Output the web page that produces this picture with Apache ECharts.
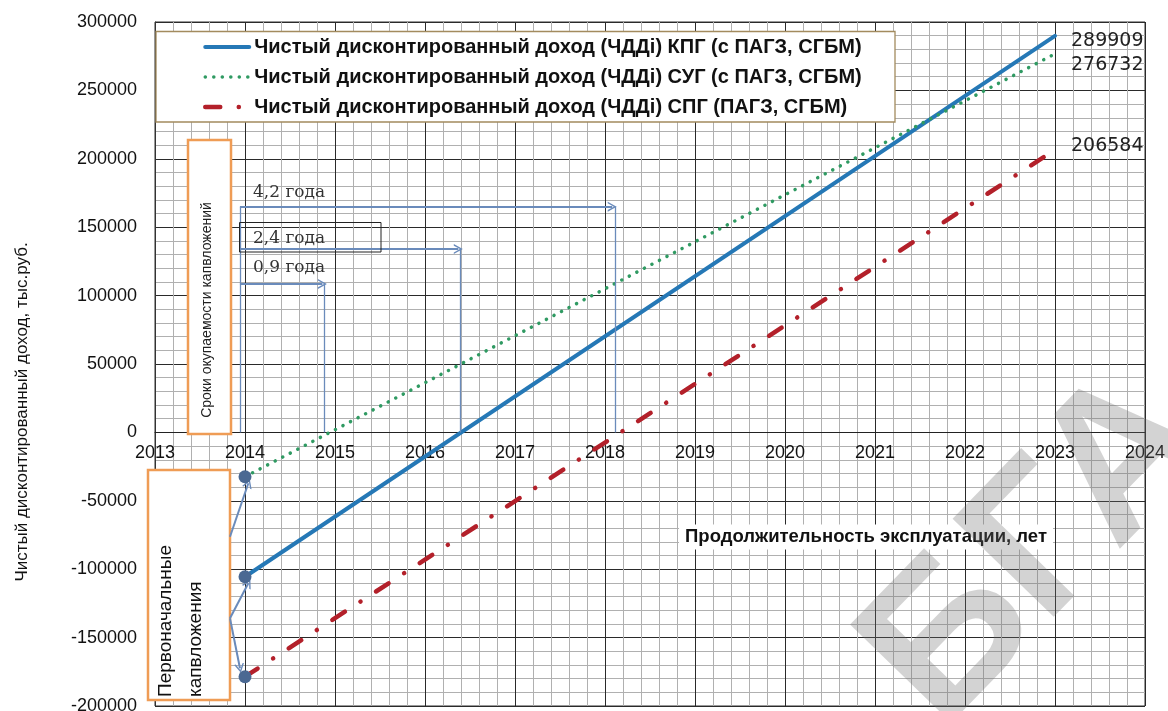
<!DOCTYPE html>
<html>
<head>
<meta charset="utf-8">
<script src="https://cdn.jsdelivr.net/npm/echarts@6/dist/echarts.min.js"></script>
<style>
html,body{margin:0;padding:0;background:#fff;}
#chart{width:1168px;height:711px;}
</style>
</head>
<body>
<div id="chart"></div>
<script>
// ---- data ----
const years = [2014, 2023];
const kpg = [-105500, 289909];   // ЧДД КПГ
const sug = [-32400, 276732];    // ЧДД СУГ
const spg = [-178600, 206584];   // ЧДД СПГ
const seriesNames = [
  'Чистый дисконтированный доход (ЧДДі) КПГ (с ПАГЗ, СГБМ)',
  'Чистый дисконтированный доход (ЧДДі) СУГ (с ПАГЗ, СГБМ)',
  'Чистый дисконтированный доход (ЧДДі) СПГ (ПАГЗ, СГБМ)'
];
const paybackLabels = ['4,2 года', '2,4 года', '0,9 года'];

const FONT = 'Liberation Sans, Arial, sans-serif';
const chevron = 'path://M0,10 L5,0 L10,10 L8.4,10 L5,3.2 L1.6,10 Z';

function pairs(vals){ return years.map((y,i)=>[y, vals[i]]); }

const chart = echarts.init(document.getElementById('chart'), null, {renderer:'canvas'});

const arrowColor = '#6a8bbb';
const markLineData = [
  // payback horizontal arrows
  [{coord:[2013.944,165000], symbol:'none'}, {coord:[2018.08,165000], symbol:chevron, symbolSize:[10,9]}],
  [{coord:[2013.944,134000], symbol:'none'}, {coord:[2016.37,134000], symbol:chevron, symbolSize:[10,9]}],
  [{coord:[2013.944,108500], symbol:'none'}, {coord:[2014.86,108500], symbol:chevron, symbolSize:[10,9]}],
  // verticals down to zero
  [{coord:[2018.11,165000], symbol:'none', lineStyle:{width:1.3}}, {coord:[2018.11,0], symbol:'none'}],
  [{coord:[2016.39,134000], symbol:'none', lineStyle:{width:1.3}}, {coord:[2016.39,0], symbol:'none'}],
  [{coord:[2014.88,108500], symbol:'none', lineStyle:{width:1.3}}, {coord:[2014.88,0], symbol:'none'}],
  [{coord:[2013.944,165000], symbol:'none', lineStyle:{width:1.3}}, {coord:[2013.944,0], symbol:'none'}],
  // initial investment arrows
  [{coord:[2013.833,-76250], symbol:'none'}, {coord:[2014.037,-37200], symbol:chevron, symbolSize:[10,9]}],
  [{coord:[2013.833,-135900], symbol:'none'}, {coord:[2014.037,-110300], symbol:chevron, symbolSize:[10,9]}],
  [{coord:[2013.833,-135900], symbol:'none'}, {coord:[2013.944,-172450], symbol:chevron, symbolSize:[10,9]}]
];

const option = {
  animation: false,
  backgroundColor: '#ffffff',
  grid: {left:155, right:23, top:22, bottom:5, show:true, borderColor:'#333', borderWidth:1,
         backgroundColor:'transparent', containLabel:false, outerBoundsMode:'none'},
  xAxis: {
    type:'value', min:2013, max:2024, interval:1,
    position:'bottom', offset:-273.6,
    axisLine:{show:true, onZero:true, lineStyle:{color:'#222', width:1}},
    axisTick:{show:false},
    minorTick:{show:false, splitNumber:5},
    splitLine:{show:true, lineStyle:{color:'#2a2a2a', width:1}},
    minorSplitLine:{show:true, lineStyle:{color:'#b0b0b0', width:1}},
    axisLabel:{fontSize:18, color:'#111', fontFamily:FONT, margin:12, formatter:v=>String(v), showMinLabel:true, showMaxLabel:true, hideOverlap:false}
  },
  yAxis: {
    type:'value', min:-200000, max:300000, interval:50000,
    axisLine:{show:true, onZero:false, lineStyle:{color:'#333'}},
    axisTick:{show:false},
    minorTick:{show:false, splitNumber:5},
    splitLine:{show:true, lineStyle:{color:'#2a2a2a', width:1}},
    minorSplitLine:{show:true, lineStyle:{color:'#b0b0b0', width:1}},
    axisLabel:{fontSize:18, color:'#111', fontFamily:FONT, margin:18, formatter:v=>String(v)}
  },
  legend: {
    orient:'vertical', left:198, top:32, padding:5, itemGap:10,
    itemWidth:44, itemHeight:14,
    itemStyle:{opacity:0},
    textStyle:{fontSize:20, fontWeight:'bold', color:'#111', fontFamily:FONT},
    data:[
      {name:seriesNames[0], lineStyle:{width:4}},
      {name:seriesNames[1], lineStyle:{width:3.5}},
      {name:seriesNames[2], lineStyle:{width:4.5}}
    ],
    z:6
  },
  series: [
    {
      name:seriesNames[0], type:'line', data:pairs(kpg), symbol:'none', z:4,
      lineStyle:{color:'#2578b6', width:4, cap:'round'}, itemStyle:{color:'#2578b6'},
      endLabel:{show:true, formatter:p=>String(p.value[1]), offset:[8,5], fontSize:19, color:'#222', fontFamily:'DejaVu Sans, sans-serif'}
    },
    {
      name:seriesNames[1], type:'line', data:pairs(sug), symbol:'none', z:4,
      lineStyle:{color:'#2f9a62', width:3.5, type:[0.1,8.4], cap:'round'}, itemStyle:{color:'#2f9a62'},
      endLabel:{show:true, formatter:p=>String(p.value[1]), offset:[8,11], fontSize:19, color:'#222', fontFamily:'DejaVu Sans, sans-serif'}
    },
    {
      name:seriesNames[2], type:'line', data:pairs(spg), symbol:'none', z:4,
      lineStyle:{color:'#b3202a', width:4.5, type:[15,18.5,0.1,18.5], cap:'round'}, itemStyle:{color:'#b3202a'},
      endLabel:{show:true, formatter:p=>String(p.value[1]), offset:[8,-4], fontSize:19, color:'#222', fontFamily:'DejaVu Sans, sans-serif'}
    },
    {
      name:'start', type:'scatter', z:5, symbol:'circle', symbolSize:13,
      itemStyle:{color:'#4a6892', opacity:1},
      data:[[years[0], sug[0]], [years[0], kpg[0]], [years[0], spg[0]]],
      markLine:{
        silent:true, symbol:['none','none'], animation:false,
        label:{show:false},
        lineStyle:{color:arrowColor, width:2, type:'solid'},
        emphasis:{disabled:true},
        data: markLineData
      }
    }
  ],
  graphic: [
    // legend frame
    {type:'rect', z:3, shape:{x:156, y:31.5, width:739, height:90.5}, style:{fill:'#fff', stroke:'#a38b5e', lineWidth:1.3}},
    // payback period box
    {type:'rect', z:5, shape:{x:188, y:140, width:43, height:294}, style:{fill:'#fff', stroke:'#ef9c55', lineWidth:2.5}},
    {type:'text', z:6, x:207, y:310, rotation:Math.PI/2,
      style:{text:'Сроки окупаемости капвложений', fontSize:14, fill:'#222', fontFamily:FONT, align:'center', verticalAlign:'middle'}},
    // initial investments box
    {type:'rect', z:5, shape:{x:148, y:470, width:82, height:230}, style:{fill:'#fff', stroke:'#ef9c55', lineWidth:2.5}},
    {type:'text', z:6, x:181, y:697, rotation:Math.PI/2,
      style:{text:'Первоначальные\nкапвложения', fontSize:19, lineHeight:30, fill:'#111', fontFamily:FONT, align:'left', verticalAlign:'middle'}},
    // payback labels
    {type:'text', z:6, x:253, y:193, style:{text:paybackLabels[0], fontSize:17, fill:'#333', fontFamily:'DejaVu Serif, serif', align:'left', verticalAlign:'middle'}},
    {type:'text', z:6, x:253, y:239, style:{text:paybackLabels[1], fontSize:17, fill:'#333', fontFamily:'DejaVu Serif, serif', align:'left', verticalAlign:'middle'}},
    {type:'text', z:6, x:253, y:268, style:{text:paybackLabels[2], fontSize:17, fill:'#333', fontFamily:'DejaVu Serif, serif', align:'left', verticalAlign:'middle'}},
    {type:'rect', z:6, shape:{x:239.5, y:222.5, width:141.5, height:29.5}, style:{fill:'none', stroke:'#222', lineWidth:1}},
    // x axis title
    {type:'text', z:6, x:866, y:537, style:{text:'Продолжительность эксплуатации, лет', fontSize:18.5, fontWeight:'bold', fill:'#111', fontFamily:FONT,
      align:'center', verticalAlign:'middle', backgroundColor:'#fff', padding:[3,6]}},
    // y axis title
    {type:'text', z:6, x:22, y:412, rotation:Math.PI/2, style:{text:'Чистый дисконтированный доход, тыс.руб.', fontSize:17, fill:'#111', fontFamily:FONT, align:'center', verticalAlign:'middle'}},
    // watermark
    {type:'text', z:100, x:1040, y:550, rotation:0.8, style:{text:'БГА', fontSize:205, fontWeight:'bold', fill:'rgba(110,110,110,0.3)', fontFamily:FONT, align:'center', verticalAlign:'middle'}}
  ]
};
chart.setOption(option);
</script>
</body>
</html>
